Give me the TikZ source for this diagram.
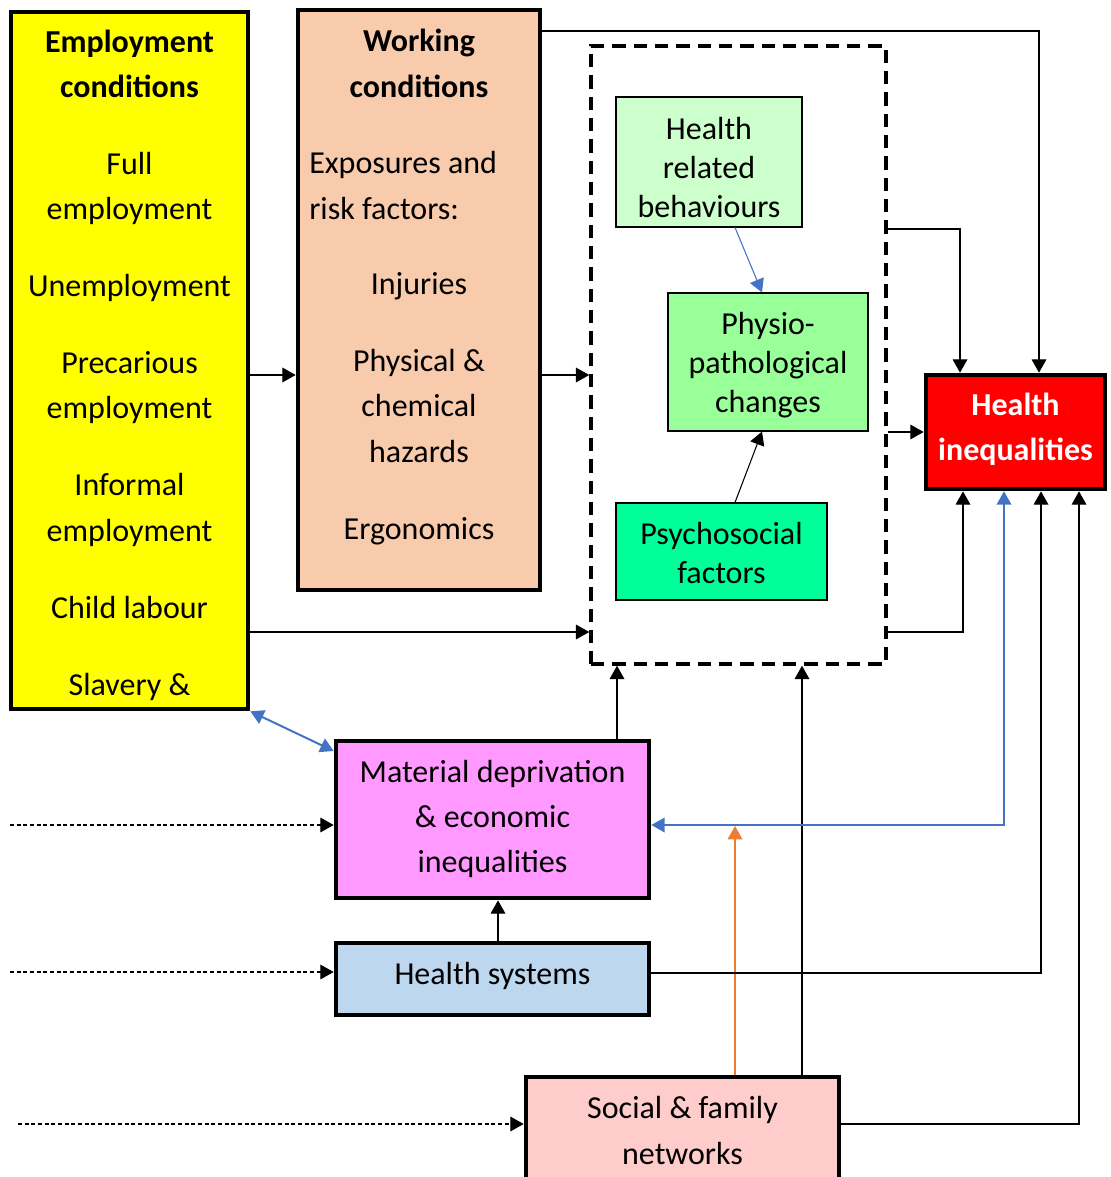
\documentclass[tikz,border=0pt]{standalone}
\usepackage{fontspec}
\setmainfont{Carlito}
\usetikzlibrary{arrows.meta,fit,calc}
\definecolor{empY}{HTML}{FFFF00}
\definecolor{workC}{HTML}{F8CBAD}
\definecolor{hrbC}{HTML}{CCFFCC}
\definecolor{physC}{HTML}{99FF99}
\definecolor{psyC}{HTML}{00FF99}
\definecolor{matC}{HTML}{FF99FF}
\definecolor{hsysC}{HTML}{BDD7EE}
\definecolor{socC}{HTML}{FFCCCC}
\definecolor{hiC}{HTML}{FF0000}
\definecolor{bluA}{HTML}{4472C4}
\definecolor{oraA}{HTML}{ED7D31}
\begin{document}
\begin{tikzpicture}[x=0.75pt,y=-0.75pt,
  txt/.style={font=\fontsize{24}{34}\selectfont, align=center, text=black, inner sep=0pt},
  gtxt/.style={font=\fontsize{24}{29.25}\selectfont, align=center, text=black, inner sep=0pt},
  thickbox/.style={draw, line width=3.5pt, inner sep=0pt},
  thinbox/.style={draw, line width=0.8pt, inner sep=0pt},
  dashbox/.style={draw, line width=2.6pt, dash pattern=on 10pt off 6pt, inner sep=0pt},
  arr/.style={-{Triangle[length=10pt,width=11pt]}, line width=0.9pt},
  barr/.style={{Triangle[length=10pt,width=11pt]}-{Triangle[length=10pt,width=11pt]}, line width=1.5pt, draw=bluA, color=bluA},
  darr/.style={arr, dash pattern=on 3pt off 2pt, line width=0.8pt},
]
\useasboundingbox (0,0) rectangle (1110,1177);

% Boxes
\node[thickbox, fill=empY, fit={(11,12) (248,709)}] (emp) {};
\node[txt] (empT) at (129.5,365)
  {\textbf{Employment}\\\textbf{conditions}\\[23.7pt]Full\\employment\\[23.7pt]Unemployment\\[23.7pt]Precarious\\employment\\[23.7pt]Informal\\employment\\[23.7pt]Child labour\\[23.7pt]Slavery \&};

\node[thickbox, fill=workC, fit={(298,10) (540,590)}] (work) {};
\node[txt] (worktitle) at (419,63.5) {\textbf{Working}\\\textbf{conditions}};
\node[txt, anchor=west, align=left] (workexp) at (309,185.5) {Exposures and\\risk factors:};
\node[txt] (workhaz) at (419,408.5) {Injuries\\[23.7pt]Physical \&\\chemical\\hazards\\[23.7pt]Ergonomics};

\node[dashbox, fit={(591,46) (886,664)}] (dash) {};

\node[thinbox, fill=hrbC, fit={(616,97) (802,227)}] (hrb) {};
\node[gtxt] (hrbT) at (709,167.5) {Health\\related\\behaviours};
\node[thinbox, fill=physC, fit={(668,293) (868,431)}] (phys) {};
\node[gtxt] (physT) at (768,365) {Physio-\\pathological\\changes};
\node[thinbox, fill=psyC, fit={(616,503) (827,600)}] (psy) {};
\node[gtxt] (psyT) at (721.5,553.5) {Psychosocial\\factors};

\node[thickbox, fill=hiC, fit={(926,375) (1105,489)}] (hi) {};
\node[txt, text=white, font=\bfseries\fontsize{24}{34}\selectfont] (hiT) at (1015.5,429.5) {Health\\inequalities};

\node[thickbox, fill=matC, fit={(336,741) (649,898)}] (mat) {};
\node[txt] (matT) at (492.5,819) {Material deprivation\\\& economic\\inequalities};
\node[thickbox, fill=hsysC, fit={(336,943) (649,1015)}] (hsys) {};
\node[txt] (hsysT) at (492.5,976) {Health systems};
\node[thickbox, fill=socC, fit={(526,1077) (839,1184)}] (soc) {};
\node[txt] (socT) at (682.5,1130.5) {Social \& family\\networks};

% Connectors
\draw[arr] (emp.east |- 0,375) -- (work.west |- 0,375);
\draw[arr] (work.east |- 0,375) -- (dash.west |- 0,375);
\draw[arr] (emp.east |- 0,632) -- (dash.west |- 0,632);
\draw[arr] (work.east |- 0,31) -| (1039,0 |- hi.north);
\draw[arr] (dash.east |- 0,229) -| (960,0 |- hi.north);
\draw[arr] (dash.east |- 0,432) -- (hi.west |- 0,432);
\draw[arr] (dash.east |- 0,632) -| (963,0 |- hi.south);

\draw[arr, draw=bluA, color=bluA, line width=0.8pt] (hrb.south -| 735,0) -- (phys.north -| 762,0);
\draw[arr, line width=0.8pt] (psy.north -| 735,0) -- (phys.south -| 762,0);

\draw[barr] (emp.south east) -- (mat.west |- 0,751);

\draw[arr] (mat.north -| 617,0) -- (dash.south -| 617,0);
\draw[arr] (soc.north -| 802,0) -- (dash.south -| 802,0);

\draw[barr, line width=1.3pt] (mat.east |- 0,825) -| (1004,0 |- hi.south);
\coordinate (oj) at (735,826);
\draw[arr, draw=oraA, color=oraA, line width=0.8pt] (soc.north -| oj) -- (oj);

\draw[arr] (hsys.north -| 498,0) -- (mat.south -| 498,0);
\draw[arr] (hsys.east |- 0,973) -| (1041,0 |- hi.south);
\draw[arr] (soc.east |- 0,1124) -| (1079,0 |- hi.south);

\coordinate (l1) at (10,825);
\coordinate (l2) at (10,972);
\coordinate (l3) at (18,1124);
\draw[darr] (l1) -- (mat.west |- l1);
\draw[darr] (l2) -- (hsys.west |- l2);
\draw[darr] (l3) -- (soc.west |- l3);
\end{tikzpicture}
\end{document}
